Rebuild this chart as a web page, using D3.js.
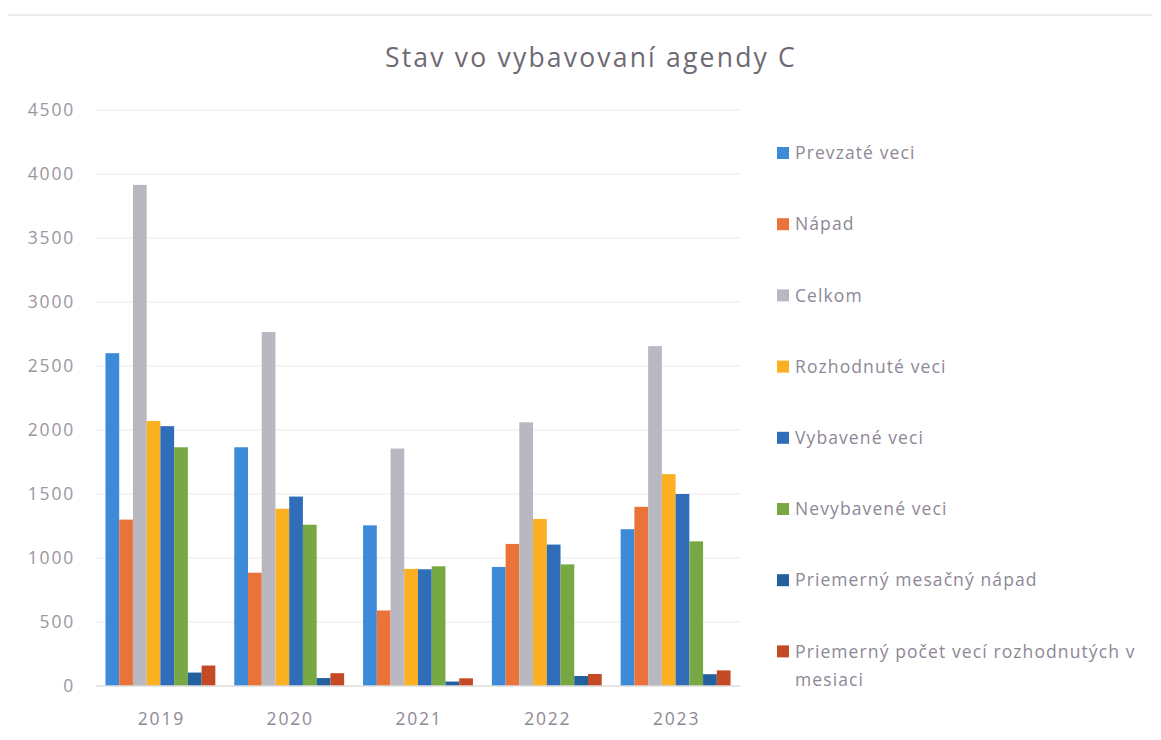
<!DOCTYPE html>
<html>
<head>
<meta charset="utf-8">
<script src="https://cdn.jsdelivr.net/npm/d3@7"></script>
<style>
  body { margin: 0; background: #fff; }
  svg text { font-family: "Open Sans", Lato, sans-serif; }
</style>
</head>
<body>
<div id="chart"></div>
<script>
// categories and series
const years = ["2019", "2020", "2021", "2022", "2023"];
const seriesNames = [
  "Prevzaté veci",
  "Nápad",
  "Celkom",
  "Rozhodnuté veci",
  "Vybavené veci",
  "Nevybavené veci",
  "Priemerný mesačný nápad",
  "Priemerný počet vecí rozhodnutých v mesiaci"
];
const prevzate    = [2600, 1865, 1255, 930, 1225];
const napad       = [1300, 885, 590, 1110, 1400];
const celkom      = [3915, 2765, 1855, 2060, 2655];
const rozhodnute  = [2070, 1385, 915, 1305, 1655];
const vybavene    = [2030, 1480, 912, 1105, 1500];
const nevybavene  = [1865, 1260, 935, 950, 1130];
const mesacny     = [105, 62, 35, 78, 92];
const rozhMesiac  = [160, 100, 60, 94, 122];
const yTicks = [0, 500, 1000, 1500, 2000, 2500, 3000, 3500, 4000, 4500];

const seriesValues = [prevzate, napad, celkom, rozhodnute, vybavene, nevybavene, mesacny, rozhMesiac];
const colors = ["#3d8ad8", "#ea733a", "#b9b7bf", "#fbb022", "#2f6db8", "#78a844", "#23609e", "#c44a25"];

const width = 1161, height = 740;
const margin = { top: 110, left: 96, right: 421, bottom: 54 };

const svg = d3.select("#chart").append("svg")
  .attr("width", width)
  .attr("height", height);

// faint scan edge at the top
svg.append("line")
  .attr("x1", 8).attr("x2", 1152)
  .attr("y1", 15).attr("y2", 15)
  .attr("stroke", "#ececec")
  .attr("stroke-width", 2);

const x0 = d3.scaleBand()
  .domain(years)
  .range([margin.left, width - margin.right])
  .paddingInner(0.147)
  .paddingOuter(0.0735);

const x1 = d3.scaleBand()
  .domain(d3.range(seriesNames.length))
  .range([0, x0.bandwidth()]);

const y = d3.scaleLinear()
  .domain([0, 4500])
  .range([height - margin.bottom, margin.top]);

// gridlines
svg.append("g")
  .selectAll("line")
  .data(yTicks.slice(1))
  .enter()
  .append("line")
  .attr("x1", margin.left)
  .attr("x2", width - margin.right)
  .attr("y1", d => y(d))
  .attr("y2", d => y(d))
  .attr("stroke", "#f0f0f0")
  .attr("stroke-width", 1.5);

// y labels
svg.append("g")
  .selectAll("text")
  .data(yTicks)
  .enter()
  .append("text")
  .attr("x", 75)
  .attr("y", d => y(d))
  .attr("dy", "0.35em")
  .attr("text-anchor", "end")
  .attr("fill", "#9a96a0")
  .style("font-size", "17.5px")
  .style("letter-spacing", "1.8px")
  .text(d => d);

// bars
const groups = svg.append("g")
  .selectAll("g")
  .data(years)
  .enter()
  .append("g")
  .attr("transform", d => "translate(" + x0(d) + ",0)");

groups.selectAll("rect")
  .data((d, i) => seriesValues.map((vals, s) => ({ s: s, v: vals[i] })))
  .enter()
  .append("rect")
  .attr("x", d => x1(d.s))
  .attr("width", x1.bandwidth())
  .attr("y", d => y(d.v))
  .attr("height", d => y(0) - y(d.v))
  .attr("fill", d => colors[d.s]);

// baseline
svg.append("line")
  .attr("x1", margin.left)
  .attr("x2", width - margin.right)
  .attr("y1", y(0))
  .attr("y2", y(0))
  .attr("stroke", "#dcdcdc")
  .attr("stroke-width", 1.5);

// x labels
svg.append("g")
  .selectAll("text")
  .data(years)
  .enter()
  .append("text")
  .attr("x", d => x0(d) + x0.bandwidth() / 2 + 1)
  .attr("y", 719)
  .attr("dy", "0.35em")
  .attr("text-anchor", "middle")
  .attr("fill", "#8e8a94")
  .style("font-size", "17.5px")
  .style("letter-spacing", "1.8px")
  .text(d => d);

// title
svg.append("text")
  .attr("x", 591)
  .attr("y", 67)
  .attr("text-anchor", "middle")
  .attr("fill", "#6f6874")
  .style("font-size", "26.5px")
  .style("letter-spacing", "2.2px")
  .text("Stav vo vybavovaní agendy C");

// legend
const legend = svg.append("g")
  .selectAll("g")
  .data(seriesNames)
  .enter()
  .append("g")
  .attr("transform", (d, i) => "translate(777," + (153 + i * 71.2) + ")");

legend.append("rect")
  .attr("x", 0)
  .attr("y", -6)
  .attr("width", 12)
  .attr("height", 12)
  .attr("fill", (d, i) => colors[i]);

legend.append("text")
  .attr("x", 18)
  .attr("y", 0)
  .attr("dy", "0.35em")
  .attr("fill", "#8e8796")
  .style("font-size", "17.5px")
  .style("letter-spacing", "1.1px")
  .each(function(d) {
    const t = d3.select(this);
    if (d.length > 40) {
      t.append("tspan").attr("x", 18).text("Priemerný počet vecí rozhodnutých v");
      t.append("tspan").attr("x", 18).attr("dy", "1.6em").text("mesiaci");
    } else {
      t.text(d);
    }
  });
</script>
</body>
</html>
